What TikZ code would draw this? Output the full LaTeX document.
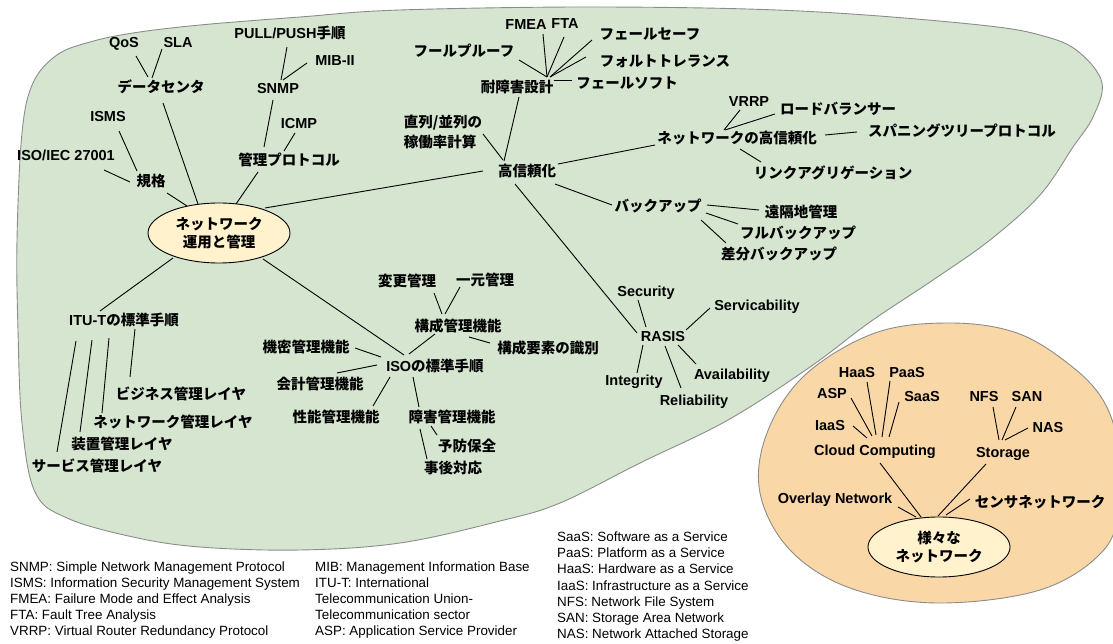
\documentclass[tikz,border=0pt]{standalone}
\usepackage{fontspec}
\setmainfont{Liberation Sans}
\newfontfamily\jp{Noto Sans CJK JP}
\usetikzlibrary{calc,shapes.geometric}
\definecolor{gfill}{HTML}{D5E5D0}
\definecolor{gline}{HTML}{8C8C8C}
\definecolor{ofill}{HTML}{FAD7A7}
\definecolor{yfill}{HTML}{FFF2CC}
\newcommand\lnk[4]{\draw[conn] ($(#1)+(#2)$) -- ($(#3)+(#4)$);}
\tikzset{
 lbl/.style={font=\fontsize{14.5}{17}\selectfont\bfseries, inner sep=0pt, text height=11pt, text depth=3pt},
 jl/.style={lbl, font=\fontsize{14.5}{17}\selectfont\bfseries\jp},
 conn/.style={draw=black, line width=0.9pt},
 leg/.style={anchor=west, inner sep=0pt, text height=10pt, text depth=3pt, font=\fontsize{13.4}{16}\selectfont},
 blob/.style={draw=gline, line width=0.9pt},
 hub/.style={ellipse, draw=black, line width=0.9pt, fill=yfill, minimum width=142pt, minimum height=60pt, inner sep=0pt, align=center, font=\fontsize{14.5}{18}\selectfont\bfseries\jp}
}
\begin{document}
\begin{tikzpicture}[x=1pt,y=-1pt]
\useasboundingbox (0,0) rectangle (1113,644);
% green region
\path[blob, fill=gfill] plot[smooth cycle, tension=0.6] coordinates {
(400,10) (600,7) (800,11) (980,25) (1047,37) (1080,53) (1102,83) (1093,117) (1073,147) (1040,195) (990,240) (933,280) (870,322) (810,367) (728,420) (640,463) (560,503) (500,521) (400,543) (300,550) (200,547) (133,537) (67,518) (35,492) (22,423) (18,330) (17,240) (22,133) (33,83) (57,55) (90,42) (133,33) (200,25) (300,17)};
% orange region
\path[blob, fill=ofill] plot[smooth cycle, tension=0.6] coordinates {
(950,323) (1017,333) (1070,365) (1103,400) (1118,445) (1120,505) (1102,552) (1040,590) (937,603) (850,588) (790,550) (760,493) (767,433) (805,375) (875,333)};

% ---- green nodes
\node[hub] (main) at (219,233) {ネットワーク\\運用と管理};
\node[lbl] (qos) at (124,44) {QoS};
\node[lbl] (sla) at (178,44) {SLA};
\node[jl] (dc) at (161,89) {データセンタ};
\node[lbl] (pull) at (290,35) {PULL/PUSH{\jp 手順}};
\node[lbl] (mib) at (335,62) {MIB-II};
\node[lbl] (snmp) at (278,90) {SNMP};
\node[lbl] (icmp) at (299,125) {ICMP};
\node[jl] (kp) at (289,162) {管理プロトコル};
\node[lbl] (isms) at (108,118) {ISMS};
\node[lbl] (iso27) at (66,157) {ISO/IEC 27001};
\node[jl] (kikaku) at (151,183) {規格};
\node[lbl] (fmea) at (526,26) {FMEA};
\node[lbl] (fta) at (565,25) {FTA};
\node[jl] (fsafe) at (650,36) {フェールセーフ};
\node[jl] (ftol) at (665,63) {フォルトトレランス};
\node[jl] (fproof) at (464,53) {フールプルーフ};
\node[jl] (taisho) at (517,89) {耐障害設計};
\node[jl] (fsoft) at (627,85) {フェールソフト};
\node[inner sep=0pt, align=left, font=\fontsize{14.5}{20}\selectfont\bfseries\jp] (chok) at (443,132) {直列/並列の\\稼働率計算};
\node[jl] (kou) at (527,173) {高信頼化};
\node[jl] (nwk) at (737,140) {ネットワークの高信頼化};
\node[lbl] (vrrp) at (749,103) {VRRP};
\node[jl] (lb) at (838,111) {ロードバランサー};
\node[jl] (stp) at (962,133) {スパニングツリープロトコル};
\node[jl] (lag) at (833,175) {リンクアグリゲーション};
\node[jl] (bk) at (658,208) {バックアップ};
\node[jl] (enk) at (801,214) {遠隔地管理};
\node[jl] (full) at (798,235) {フルバックアップ};
\node[jl] (diff) at (779,255) {差分バックアップ};
\node[lbl] (rasis) at (663,337) {RASIS};
\node[lbl] (sec) at (646,292) {Security};
\node[lbl] (serv) at (757,306) {Servicability};
\node[lbl] (integ) at (634,381) {Integrity};
\node[lbl] (avail) at (732,375) {Availability};
\node[lbl] (reli) at (694,401) {Reliability};
\node[lbl] (itu) at (124,321) {ITU-T{\jp の標準手順}};
\node[jl] (biz) at (181,395) {ビジネス管理レイヤ};
\node[jl] (nwl) at (173,423) {ネットワーク管理レイヤ};
\node[jl] (dev) at (122,445) {装置管理レイヤ};
\node[jl] (svc) at (97,467) {サービス管理レイヤ};
\node[lbl] (isoh) at (435,367) {ISO{\jp の標準手順}};
\node[jl] (henk) at (407,283) {変更管理};
\node[jl] (ichi) at (485,282) {一元管理};
\node[jl] (kosei) at (458,327) {構成管理機能};
\node[jl] (koseiy) at (548,349) {構成要素の識別};
\node[jl] (kimitsu) at (306,348) {機密管理機能};
\node[jl] (kaikei) at (320,385) {会計管理機能};
\node[jl] (seino) at (336,418) {性能管理機能};
\node[jl] (shogai) at (452,418) {障害管理機能};
\node[jl] (yobo) at (467,447) {予防保全};
\node[jl] (jigo) at (453,469) {事後対応};

% ---- orange nodes
\node[hub] (various) at (939,547) {様々な\\ネットワーク};
\node[lbl] (haas) at (857,373) {HaaS};
\node[lbl] (paas) at (907,373) {PaaS};
\node[lbl] (asp) at (832,394) {ASP};
\node[lbl] (saas) at (922,397) {SaaS};
\node[lbl] (iaas) at (830,426) {IaaS};
\node[lbl] (cloud) at (875,451) {Cloud Computing};
\node[lbl] (nfs) at (984,397) {NFS};
\node[lbl] (san) at (1027,397) {SAN};
\node[lbl] (nas) at (1048,428) {NAS};
\node[lbl] (storage) at (1003,453) {Storage};
\node[lbl] (overlay) at (835,499) {Overlay Network};
\node[jl] (sensor) at (1040,503) {センサネットワーク};

% ---- connectors
\lnk{qos}{12,12}{dc}{-13,-12}
\lnk{sla}{-16,5}{dc}{-9,-11}
\lnk{dc}{2,14}{main}{-21,-29}
\lnk{pull}{-3,12}{snmp}{3,-10}
\lnk{mib}{-28,1}{snmp}{5,-10}
\lnk{snmp}{-5,10}{kp}{-25,-15}
\lnk{icmp}{-4,8}{kp}{-5,-11}
\lnk{kp}{-31,10}{main}{17,-29}
\lnk{isms}{11,13}{kikaku}{-14,-12}
\lnk{iso27}{38,13}{kikaku}{-21,-1}
\lnk{kikaku}{16,10}{main}{-32,-27}
\lnk{main}{46,-25}{kou}{-44,-2}
\lnk{fmea}{17,8}{taisho}{30,-12}
\lnk{fta}{-1,12}{taisho}{30,-12}
\lnk{fsafe}{-58,4}{taisho}{33,-12}
\lnk{ftol}{-79,-6}{taisho}{33,-12}
\lnk{fproof}{55,7}{taisho}{30,-12}
\lnk{fsoft}{-55,-5}{taisho}{37,-9}
\lnk{taisho}{2,8}{kou}{-23,-12}
\lnk{chok}{40,2}{kou}{-24,-13}
\lnk{kou}{31,-9}{nwk}{-82,5}
\lnk{kou}{28,11}{bk}{-46,-3}
\lnk{kou}{-12,11}{rasis}{-26,-4}
\lnk{vrrp}{-9,7}{nwk}{-13,-10}
\lnk{lb}{-63,3}{nwk}{-12,-10}
\lnk{nwk}{88,-5}{stp}{-105,-1}
\lnk{nwk}{3,9}{lag}{-72,-13}
\lnk{bk}{49,-3}{enk}{-42,-4}
\lnk{bk}{48,5}{full}{-60,-11}
\lnk{bk}{43,12}{diff}{-53,-12}
\lnk{sec}{-8,8}{rasis}{-17,-10}
\lnk{serv}{-47,2}{rasis}{23,-7}
\lnk{rasis}{-20,8}{integ}{3,-8}
\lnk{rasis}{2,9}{reli}{-13,-13}
\lnk{rasis}{15,8}{avail}{-36,-11}
\lnk{main}{-46,25}{itu}{-24,-10}
\lnk{itu}{11,8}{biz}{-51,-18}
\lnk{itu}{-15,17}{nwl}{-71,-10}
\lnk{itu}{-32,19}{dev}{-42,-13}
\lnk{itu}{-48,20}{svc}{-40,-15}
\lnk{main}{44,26}{isoh}{-31,-12}
\lnk{henk}{27,10}{kosei}{-16,-13}
\lnk{ichi}{-25,5}{kosei}{-13,-13}
\lnk{kosei}{-23,7}{isoh}{-26,-13}
\lnk{kosei}{11,10}{koseiy}{-58,-6}
\lnk{kimitsu}{49,0}{isoh}{-54,-10}
\lnk{kaikei}{17,-12}{isoh}{-58,-2}
\lnk{seino}{37,-12}{isoh}{-45,10}
\lnk{isoh}{-22,10}{shogai}{-33,-11}
\lnk{shogai}{-21,8}{yobo}{-30,-12}
\lnk{shogai}{-32,11}{jigo}{-26,-10}
\lnk{haas}{10,9}{cloud}{1,-16}
\lnk{paas}{-17,8}{cloud}{7,-14}
\lnk{asp}{19,4}{cloud}{-3,-15}
\lnk{saas}{-23,5}{cloud}{14,-14}
\lnk{iaas}{23,0}{cloud}{-8,-13}
\lnk{nfs}{9,10}{storage}{-4,-13}
\lnk{san}{-11,10}{storage}{-1,-13}
\lnk{nas}{-20,0}{storage}{2,-13}
\lnk{cloud}{5,12}{various}{-18,-30}
\lnk{storage}{-17,11}{various}{-1,-31}
\lnk{overlay}{63,8}{various}{-23,-30}
\lnk{sensor}{-70,-4}{various}{7,-32}

% ---- legend
\node[leg] (l1) at (10,568) {SNMP: Simple Network Management Protocol};
\node[leg] (l2) at (10,584) {ISMS: Information Security Management System};
\node[leg] (l3) at (10,600) {FMEA: Failure Mode and Effect Analysis};
\node[leg] (l4) at (10,616) {FTA: Fault Tree Analysis};
\node[leg] (l5) at (10,632) {VRRP: Virtual Router Redundancy Protocol};
\node[leg] (m1) at (315,568) {MIB: Management Information Base};
\node[leg] (m2) at (315,584) {ITU-T: International};
\node[leg] (m3) at (315,600) {Telecommunication Union-};
\node[leg] (m4) at (315,616) {Telecommunication sector};
\node[leg] (m5) at (315,632) {ASP: Application Service Provider};
\node[leg] (r1) at (557,538) {SaaS: Software as a Service};
\node[leg] (r2) at (557,554) {PaaS: Platform as a Service};
\node[leg] (r3) at (557,570) {HaaS: Hardware as a Service};
\node[leg] (r4) at (557,587) {IaaS: Infrastructure as a Service};
\node[leg] (r5) at (557,603) {NFS: Network File System};
\node[leg] (r6) at (557,619) {SAN: Storage Area Network};
\node[leg] (r7) at (557,635) {NAS: Network Attached Storage};
\end{tikzpicture}
\end{document}
